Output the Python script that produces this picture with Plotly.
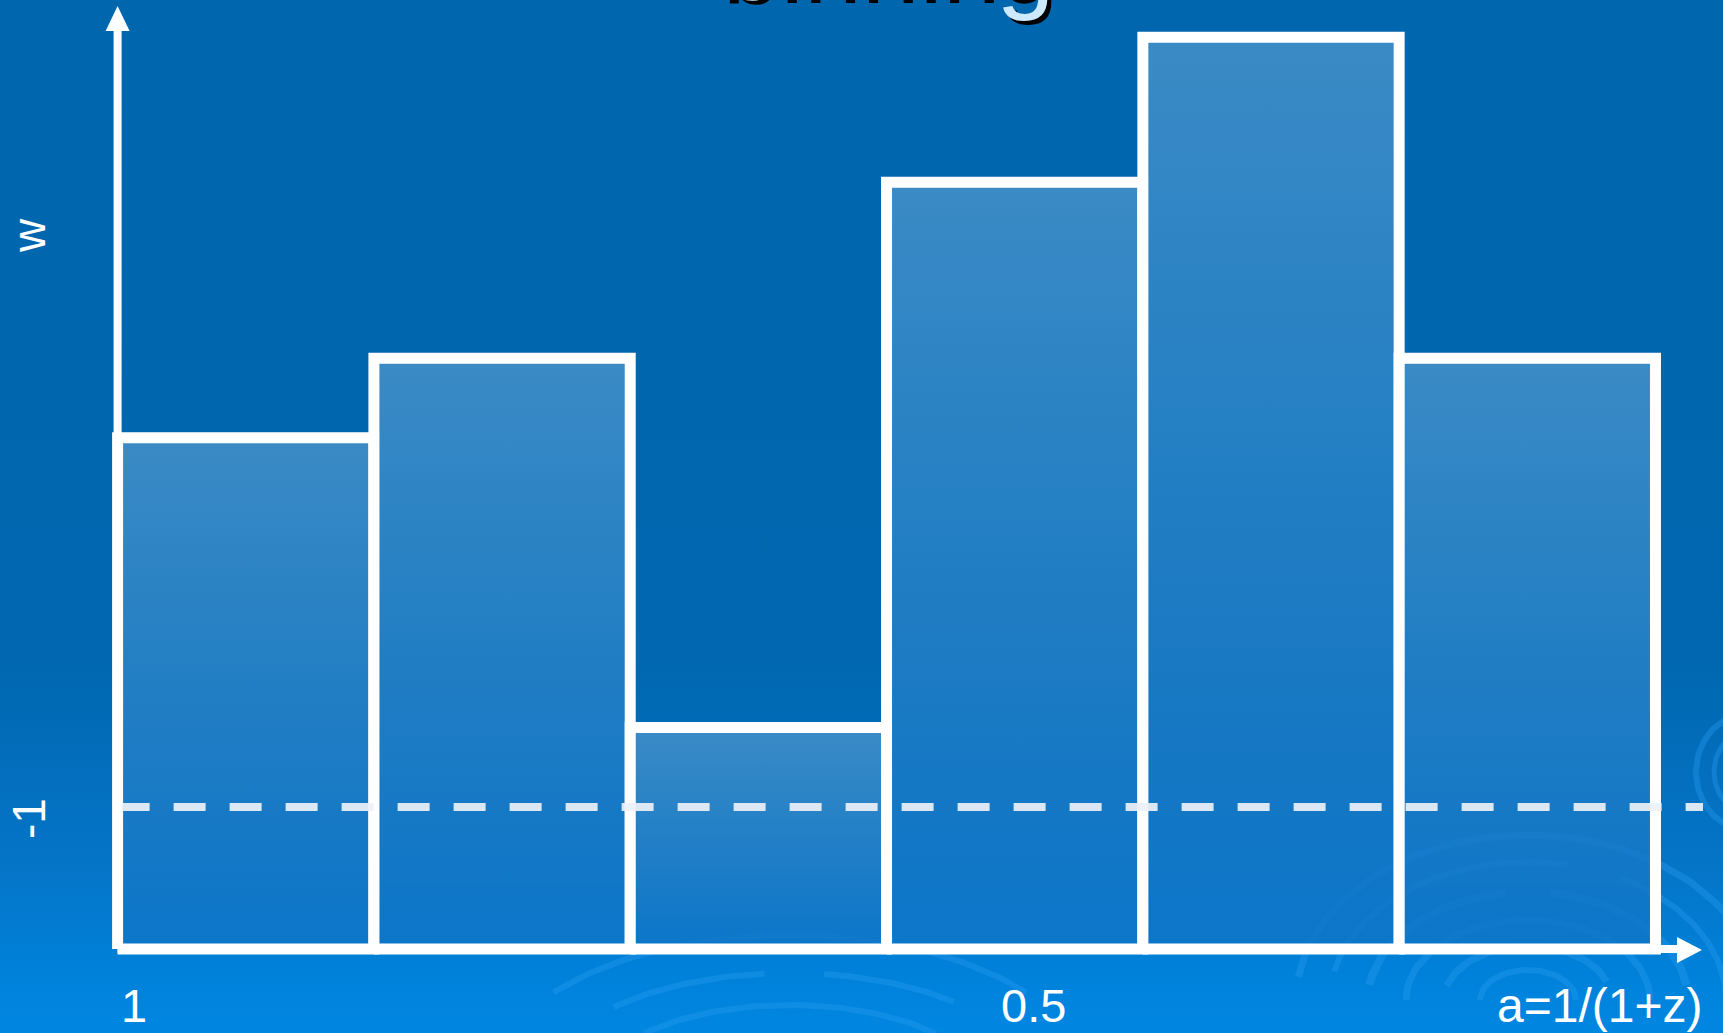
import numpy as np
import plotly.graph_objects as go

W, H = 1723, 1033

# Scale factor a = 1/(1+z): bin edges running from a = 1 down to early times
bin_edges = [1.0, 0.86, 0.72, 0.58, 0.44, 0.30, 0.16]
# Piecewise-constant equation of state w in each bin
w_values = [0.30, 0.58, -0.72, 1.20, 1.71, 0.58]
w_base = -1.5          # level of the horizontal axis
w_ref = -1.0           # cosmological constant reference line
x_tick_vals = [1.0, 0.5]
x_tick_text = ["1", "0.5"]
title_text = "binning"
x_title = "a=1/(1+z)"
y_title = "w"
y_ref_text = "-1"

# pixel anchors of the axes frame
X0_PX, Y0_PX = 117.6, 949.0      # origin (a=1, w=w_base)
A_PER_PX = 1.0 / 1830.8
W_PER_PX = 1.0 / 284.0

x_range = [1.0 + X0_PX * A_PER_PX, 1.0 - (W - X0_PX) * A_PER_PX]
y_range = [w_base - (H - Y0_PX) * W_PER_PX, w_base + Y0_PX * W_PER_PX]


def ax(px):
    return x_range[0] + (x_range[1] - x_range[0]) * px / W


def ay(py):
    return y_range[1] + (y_range[0] - y_range[1]) * py / H


FONT = "Liberation Sans, Arial, sans-serif"
fig = go.Figure()

# background: vertical blue gradient
fig.add_trace(go.Scatter(
    x=[ax(0), ax(W), ax(W), ax(0), ax(0)],
    y=[ay(0), ay(0), ay(H), ay(H), ay(0)],
    mode="lines", fill="toself", line=dict(width=0),
    fillgradient=dict(type="vertical", colorscale=[
        [0.0, "#0087e2"], [0.06, "#0081d9"], [0.16, "#0575c8"],
        [0.36, "#0067b0"], [1.0, "#0066ae"]]),
    hoverinfo="skip", showlegend=False))

# decorative swirl arcs: (cx, cy, rx, ry, start_deg, end_deg, width)
arcs = [
    (1528, 1000, 232, 165, 15, 172, 7),
    (1528, 1000, 198, 138, 0, 62, 6), (1528, 1000, 198, 138, 78, 168, 6),
    (1528, 1000, 160, 108, 8, 82, 8), (1528, 1000, 160, 108, 98, 172, 8),
    (1528, 1000, 122, 80, 0, 180, 7),
    (1528, 1000, 84, 54, 20, 165, 7),
    (1528, 1000, 48, 30, 0, 180, 6),
    (790, 1085, 300, 150, 38, 142, 6),
    (790, 1085, 245, 112, 48, 82, 6), (790, 1085, 245, 112, 96, 136, 6),
    (790, 1085, 190, 80, 40, 140, 6),
    (1748, 772, 52, 58, 100, 260, 6),
    (1748, 772, 34, 40, 110, 250, 5),
]
for cx, cy, rx, ry, t0, t1, lw in arcs:
    t = np.radians(np.linspace(t0, t1, 60))
    fig.add_trace(go.Scatter(
        x=[ax(v) for v in cx + rx * np.cos(t)],
        y=[ay(v) for v in cy - ry * np.sin(t)],
        mode="lines", line=dict(color="rgba(40,155,240,0.38)", width=lw),
        hoverinfo="skip", showlegend=False))

# histogram bins
for i, w in enumerate(w_values):
    a0, a1 = bin_edges[i], bin_edges[i + 1]
    fig.add_trace(go.Scatter(
        x=[a0, a0, a1, a1, a0],
        y=[w_base, w, w, w_base, w_base],
        mode="lines", fill="toself",
        fillgradient=dict(type="vertical", colorscale=[
            [0.0, "rgba(14,116,198,0.80)"], [1.0, "rgba(66,144,200,0.88)"]]),
        line=dict(color="white", width=11),
        hoverinfo="skip", showlegend=False))

# w = -1 reference line
fig.add_trace(go.Scatter(
    x=[bin_edges[0], ax(1703)], y=[w_ref, w_ref], mode="lines",
    line=dict(color="rgba(236,240,248,0.93)", width=8, dash="32px,24px"),
    hoverinfo="skip", showlegend=False))

# axis lines with arrow heads
fig.add_trace(go.Scatter(
    x=[bin_edges[0], bin_edges[0]], y=[w_base, ay(28)], mode="lines",
    line=dict(color="white", width=8), hoverinfo="skip", showlegend=False))
fig.add_trace(go.Scatter(
    x=[bin_edges[0], ax(1680)], y=[w_base, w_base], mode="lines",
    line=dict(color="white", width=8), hoverinfo="skip", showlegend=False))
fig.add_trace(go.Scatter(
    x=[ax(X0_PX - 12), ax(X0_PX), ax(X0_PX + 12), ax(X0_PX - 12)],
    y=[ay(31), ay(6), ay(31), ay(31)], mode="lines", fill="toself",
    fillcolor="white", line=dict(width=0), hoverinfo="skip", showlegend=False))
fig.add_trace(go.Scatter(
    x=[ax(1677), ax(1702), ax(1677), ax(1677)],
    y=[ay(Y0_PX - 12), ay(Y0_PX + 1), ay(Y0_PX + 14), ay(Y0_PX - 12)],
    mode="lines", fill="toself",
    fillcolor="white", line=dict(width=0), hoverinfo="skip", showlegend=False))

annotations = []
# title with drop shadow
for dx, dy, col in [(4, -4, "black"), (0, 0, "#cde9ff")]:
    annotations.append(dict(
        text=title_text, x=ax(886 + dx), y=1, xref="x", yref="paper",
        xanchor="center", yanchor="bottom", yshift=-23 + dy, showarrow=False,
        font=dict(family=FONT, size=104, color=col)))

# tick labels along a
annotations.append(dict(
    text=x_tick_text[0], x=x_tick_vals[0], y=ay(1005), xref="x", yref="y",
    xanchor="left", yanchor="middle", xshift=1, showarrow=False,
    font=dict(family=FONT, size=47, color="white")))
annotations.append(dict(
    text=x_tick_text[1], x=x_tick_vals[1], y=ay(1005), xref="x", yref="y",
    xanchor="center", yanchor="middle", showarrow=False,
    font=dict(family=FONT, size=47, color="white")))
annotations.append(dict(
    text=x_title, x=ax(1704), y=ay(1005), xref="x", yref="y",
    xanchor="right", yanchor="middle", showarrow=False,
    font=dict(family=FONT, size=48, color="white")))

# rotated labels on the w side
annotations.append(dict(
    text=y_title, x=ax(29), y=ay(236), xref="x", yref="y",
    xanchor="center", yanchor="middle", textangle=-90, showarrow=False,
    font=dict(family=FONT, size=46, color="white")))
annotations.append(dict(
    text=y_ref_text, x=ax(29), y=w_ref, yshift=-12, xref="x", yref="y",
    xanchor="center", yanchor="middle", textangle=-90, showarrow=False,
    font=dict(family=FONT, size=46, color="white")))

fig.update_layout(
    width=W, height=H, autosize=False,
    margin=dict(l=0, r=0, t=0, b=0, pad=0),
    paper_bgcolor="#0066ae", plot_bgcolor="#0066ae",
    xaxis=dict(range=x_range, visible=False, fixedrange=True),
    yaxis=dict(range=y_range, visible=False, fixedrange=True),
    showlegend=False, hovermode=False,
    annotations=annotations,
)

fig.write_html("out.html", config={"displayModeBar": False, "staticPlot": True})
